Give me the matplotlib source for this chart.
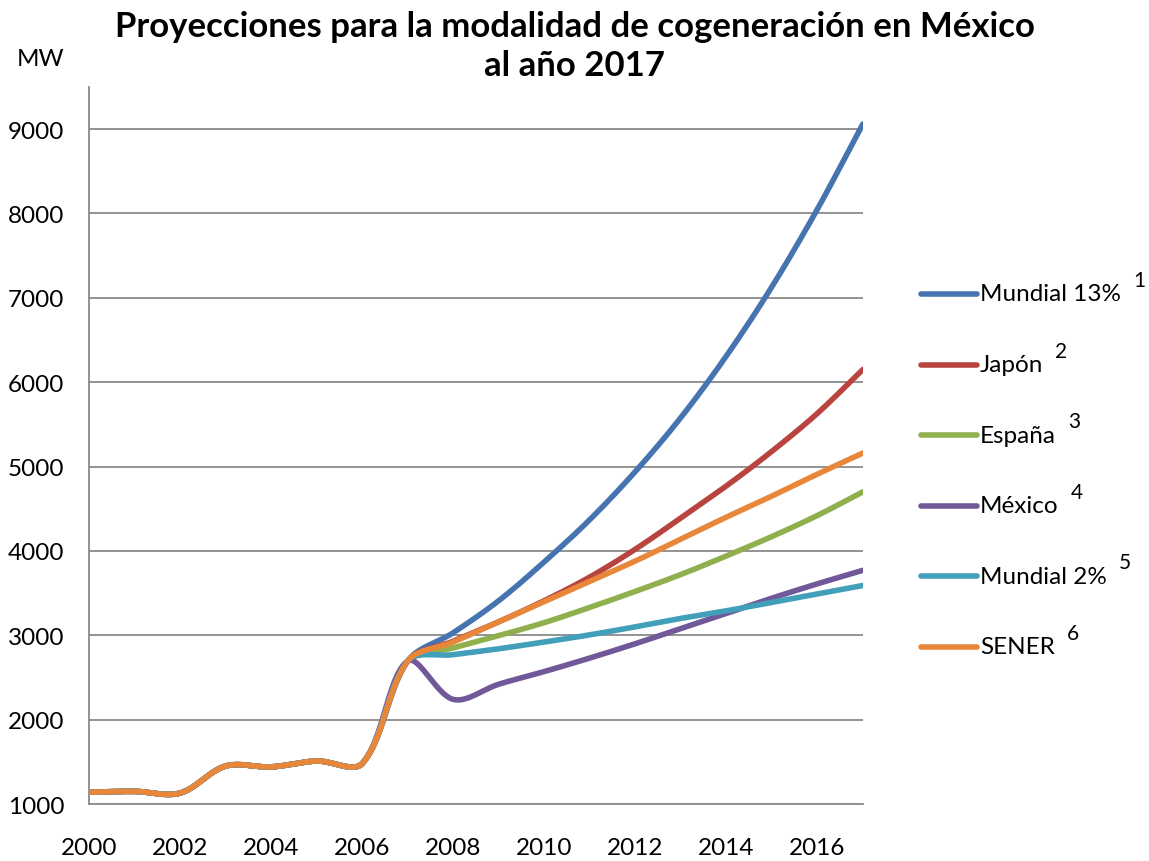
import numpy as np
import matplotlib.pyplot as plt
from matplotlib.lines import Line2D

plt.rcParams['font.family'] = ['Lato', 'DejaVu Sans']

years = list(range(2000, 2018))
historico = [1140, 1150, 1130, 1450, 1440, 1510, 1480, 2695]

mundial13 = historico + [3030, 3410, 3870, 4370, 4940, 5580, 6310, 7130, 8050, 9060]
japon = historico + [2930, 3160, 3410, 3690, 4020, 4390, 4770, 5180, 5630, 6150]
espana = historico + [2850, 2995, 3150, 3330, 3520, 3720, 3940, 4170, 4420, 4700]
mexico = historico + [2240, 2420, 2570, 2730, 2900, 3080, 3260, 3440, 3610, 3770]
mundial2 = historico + [2770, 2840, 2920, 3005, 3100, 3200, 3290, 3390, 3490, 3590]
sener = historico + [2920, 3160, 3400, 3640, 3880, 4140, 4400, 4650, 4910, 5160]

series = [
    ('Mundial 13%', '1', mundial13, '#4674b0'),
    ('Japón', '2', japon, '#b8433f'),
    ('España', '3', espana, '#8fb04c'),
    ('México', '4', mexico, '#715899'),
    ('Mundial 2%', '5', mundial2, '#419fba'),
    ('SENER', '6', sener, '#e8873a'),
]

# rough pixel size of one year / one MW, used to weight the smoothing
XS, YS = 45.5, 0.0844


def smooth(x, y, n=30):
    # bezier smoothing between points, tangents weighted by segment length
    P = np.column_stack([np.asarray(x, float) * XS, np.asarray(y, float) * YS])
    P = np.vstack([P[0], P, P[-1]])
    t = np.linspace(0, 1, n)[:, None]
    out = []
    for i in range(1, len(P) - 2):
        p0, p1, p2, p3 = P[i - 1], P[i], P[i + 1], P[i + 2]
        d01 = np.hypot(*(p1 - p0))
        d12 = np.hypot(*(p2 - p1))
        d23 = np.hypot(*(p3 - p2))
        f1 = d12 / (d01 + d12) / 3 if d01 + d12 > 0 else 0
        f2 = d12 / (d12 + d23) / 3 if d12 + d23 > 0 else 0
        c1 = p1 + (p2 - p0) * f1
        c2 = p2 - (p3 - p1) * f2
        b = (1 - t) ** 3 * p1 + 3 * (1 - t) ** 2 * t * c1 + 3 * (1 - t) * t ** 2 * c2 + t ** 3 * p2
        out.append(b)
    b = np.vstack(out)
    return b[:, 0] / XS, b[:, 1] / YS


fig = plt.figure(figsize=(11.49, 8.62), dpi=100)
ax = fig.add_axes([0.0775, 0.0661, 0.6735, 0.832])

for name, num, vals, col in series:
    sx, sy = smooth(years, vals)
    ax.plot(sx, sy, color=col, lw=4, solid_capstyle='round', zorder=3)

ax.set_xlim(2000, 2017)
ax.set_ylim(1000, 9500)
ax.set_xticks(range(2000, 2017, 2))
ax.set_yticks(range(1000, 10000, 1000))
ax.yaxis.grid(True, color='#8a8a8a', lw=1.3)
ax.set_axisbelow(True)
for s in ['top', 'right']:
    ax.spines[s].set_visible(False)
for s in ['left', 'bottom']:
    ax.spines[s].set_color('#8a8a8a')
    ax.spines[s].set_linewidth(1.3)
ax.tick_params(axis='both', length=0, labelsize=17.5)
ax.tick_params(axis='y', pad=18)
ax.tick_params(axis='x', pad=24)

fig.text(0.5, 0.946, 'Proyecciones para la modalidad de cogeneración en México\nal año 2017',
         ha='center', va='center', fontsize=25, fontweight='bold', linespacing=1.3)
fig.text(0.035, 0.931, 'MW', ha='center', va='center', fontsize=17.5)

# legend drawn by hand so the footnote numbers can sit above each label
ly0 = 862 - 295
for i, (name, num, vals, col) in enumerate(series):
    yy = (ly0 - i * 70.6) / 862
    fig.add_artist(Line2D([921 / 1149, 977 / 1149], [yy, yy], color=col, lw=4,
                          solid_capstyle='round', transform=fig.transFigure))
    t = fig.text(980 / 1149, yy, name, ha='left', va='center', fontsize=17.5)
    fig.canvas.draw()
    bb = t.get_window_extent()
    fig.text((bb.x1 + 12) / 1149, yy + 14 / 862, num, ha='left', va='center', fontsize=15)

fig.savefig('out.png', dpi=100)
